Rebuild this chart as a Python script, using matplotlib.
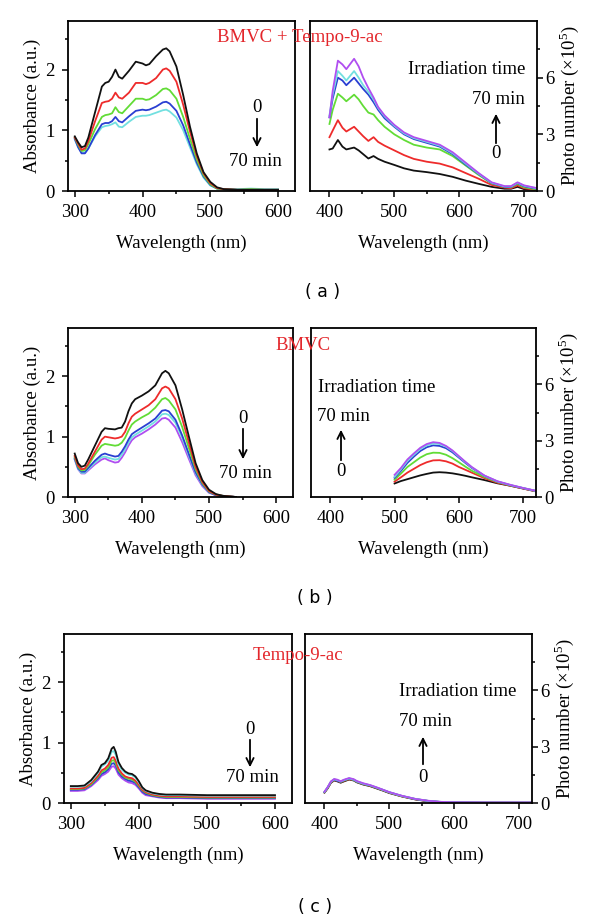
import matplotlib
matplotlib.use('Agg')
import matplotlib.pyplot as plt
from matplotlib.ticker import MultipleLocator, FixedLocator
from matplotlib.patches import FancyArrowPatch

plt.rcParams['font.family'] = ['Liberation Serif', 'DejaVu Serif']
plt.rcParams['mathtext.fontset'] = 'custom'
plt.rcParams['mathtext.rm'] = 'Liberation Serif'

# ---------------- data ----------------
# (a) BMVC + Tempo-9-ac, absorbance
wl_a_abs = [300, 305, 310, 315, 320, 330, 340, 345, 350, 355, 360, 365, 370, 380, 390, 400, 405, 410,
            420, 430, 435, 440, 450, 460, 470, 480, 490, 500, 510, 520, 540, 560, 580, 600]
a_abs_black = [0.90, 0.80, 0.72, 0.74, 0.88, 1.30, 1.72, 1.78, 1.80, 1.88, 2.00, 1.88, 1.85, 1.98, 2.13, 2.10, 2.07, 2.09,
               2.22, 2.33, 2.35, 2.30, 2.05, 1.58, 1.06, 0.62, 0.31, 0.15, 0.06, 0.03, 0.02, 0.02, 0.02, 0.02]
a_abs_red = [0.88, 0.78, 0.68, 0.70, 0.82, 1.15, 1.45, 1.47, 1.48, 1.52, 1.62, 1.54, 1.52, 1.62, 1.78, 1.78, 1.76, 1.78,
             1.86, 2.00, 2.02, 1.98, 1.80, 1.42, 0.98, 0.58, 0.29, 0.13, 0.05, 0.03, 0.02, 0.02, 0.02, 0.02]
a_abs_green = [0.88, 0.76, 0.66, 0.67, 0.77, 1.02, 1.22, 1.25, 1.26, 1.28, 1.38, 1.30, 1.28, 1.40, 1.52, 1.52, 1.50, 1.51,
               1.58, 1.68, 1.69, 1.66, 1.52, 1.22, 0.86, 0.52, 0.26, 0.11, 0.04, 0.03, 0.02, 0.03, 0.02, 0.02]
a_abs_blue = [0.86, 0.72, 0.62, 0.62, 0.70, 0.92, 1.10, 1.12, 1.12, 1.15, 1.22, 1.15, 1.13, 1.23, 1.32, 1.34, 1.33, 1.34,
              1.39, 1.46, 1.47, 1.44, 1.32, 1.08, 0.77, 0.47, 0.24, 0.10, 0.04, 0.03, 0.02, 0.02, 0.02, 0.02]
a_abs_cyan = [0.85, 0.72, 0.64, 0.63, 0.70, 0.90, 1.05, 1.07, 1.08, 1.10, 1.13, 1.06, 1.05, 1.14, 1.22, 1.24, 1.24, 1.25,
              1.29, 1.33, 1.34, 1.31, 1.21, 1.00, 0.72, 0.44, 0.22, 0.09, 0.04, 0.03, 0.03, 0.04, 0.03, 0.03]

# (a) emission
wl_a_em = [400, 405, 413, 420, 426, 438, 445, 452, 460, 468, 475, 485, 500, 515, 530, 550, 570,
           590, 610, 630, 650, 670, 680, 690, 700, 720]
a_em_black = [2.20, 2.25, 2.70, 2.35, 2.20, 2.30, 2.15, 1.95, 1.72, 1.85, 1.70, 1.55, 1.38, 1.20, 1.08, 1.00, 0.90,
              0.75, 0.55, 0.38, 0.22, 0.12, 0.12, 0.22, 0.10, 0.05]
a_em_red = [2.85, 3.20, 3.75, 3.35, 3.15, 3.40, 3.15, 2.90, 2.65, 2.85, 2.60, 2.40, 2.15, 1.90, 1.70, 1.55, 1.45,
            1.25, 0.95, 0.65, 0.32, 0.18, 0.15, 0.30, 0.15, 0.05]
a_em_green = [3.55, 4.30, 5.15, 4.95, 4.75, 5.10, 4.85, 4.50, 4.15, 4.05, 3.75, 3.40, 3.00, 2.70, 2.45, 2.30, 2.20,
              1.85, 1.35, 0.85, 0.40, 0.22, 0.20, 0.38, 0.20, 0.08]
a_em_blue = [3.90, 4.90, 6.00, 5.85, 5.60, 6.00, 5.70, 5.40, 5.10, 4.70, 4.30, 3.85, 3.40, 3.00, 2.75, 2.55, 2.35,
             1.95, 1.40, 0.90, 0.42, 0.22, 0.22, 0.42, 0.25, 0.12]
a_em_cyan = [4.00, 5.10, 6.35, 6.10, 5.85, 6.35, 6.00, 5.60, 5.25, 4.85, 4.40, 3.95, 3.45, 3.05, 2.80, 2.60, 2.40,
             2.00, 1.45, 0.92, 0.44, 0.24, 0.24, 0.44, 0.28, 0.14]
a_em_purple = [3.90, 5.30, 6.90, 6.70, 6.45, 7.00, 6.60, 6.00, 5.45, 4.95, 4.45, 4.00, 3.50, 3.10, 2.85, 2.65, 2.45,
               2.05, 1.50, 0.95, 0.46, 0.26, 0.26, 0.46, 0.30, 0.15]

# (b) BMVC, absorbance
wl_b_abs = [300, 305, 310, 315, 320, 330, 340, 345, 350, 360, 365, 370, 375, 380, 385, 390, 400, 410,
            420, 430, 435, 440, 450, 460, 470, 480, 490, 500, 510, 520, 530, 540]
b_abs_black = [0.72, 0.56, 0.50, 0.52, 0.62, 0.85, 1.08, 1.14, 1.13, 1.12, 1.14, 1.15, 1.25, 1.42, 1.55, 1.62, 1.68, 1.75,
               1.85, 2.05, 2.09, 2.05, 1.85, 1.45, 1.00, 0.56, 0.28, 0.12, 0.05, 0.02, 0.01, 0.00]
b_abs_red = [0.68, 0.52, 0.46, 0.47, 0.55, 0.75, 0.95, 1.00, 0.99, 0.97, 0.98, 1.00, 1.08, 1.22, 1.33, 1.38, 1.45, 1.52,
             1.62, 1.80, 1.83, 1.80, 1.62, 1.30, 0.90, 0.50, 0.25, 0.10, 0.04, 0.02, 0.01, 0.00]
b_abs_green = [0.66, 0.50, 0.44, 0.45, 0.52, 0.70, 0.85, 0.88, 0.87, 0.85, 0.86, 0.90, 0.98, 1.10, 1.20, 1.25, 1.32, 1.38,
               1.48, 1.62, 1.64, 1.60, 1.45, 1.16, 0.81, 0.46, 0.23, 0.09, 0.04, 0.02, 0.01, 0.00]
b_abs_blue = [0.64, 0.48, 0.42, 0.42, 0.48, 0.60, 0.70, 0.72, 0.70, 0.67, 0.68, 0.75, 0.84, 0.95, 1.04, 1.08, 1.15, 1.22,
              1.30, 1.43, 1.44, 1.42, 1.28, 1.02, 0.71, 0.41, 0.21, 0.08, 0.03, 0.02, 0.01, 0.00]
b_abs_cyan = [0.63, 0.47, 0.40, 0.40, 0.46, 0.57, 0.66, 0.67, 0.65, 0.62, 0.63, 0.70, 0.79, 0.90, 0.99, 1.03, 1.10, 1.17,
              1.25, 1.37, 1.38, 1.36, 1.23, 0.98, 0.68, 0.39, 0.20, 0.08, 0.03, 0.02, 0.01, 0.00]
b_abs_purple = [0.62, 0.46, 0.39, 0.39, 0.44, 0.54, 0.62, 0.64, 0.61, 0.57, 0.58, 0.65, 0.74, 0.85, 0.94, 0.99, 1.05, 1.12,
                1.20, 1.30, 1.31, 1.28, 1.15, 0.91, 0.63, 0.36, 0.18, 0.07, 0.03, 0.01, 0.01, 0.00]

# (b) emission
wl_b_em = [500, 510, 520, 530, 540, 550, 560, 570, 580, 590, 600, 610, 620, 640, 660, 680, 700, 720]
b_em_black = [0.72, 0.85, 0.95, 1.05, 1.15, 1.23, 1.30, 1.32, 1.30, 1.26, 1.20, 1.13, 1.05, 0.90, 0.73, 0.60, 0.45, 0.30]
b_em_red = [0.82, 1.05, 1.30, 1.50, 1.70, 1.85, 1.95, 1.96, 1.90, 1.78, 1.60, 1.45, 1.30, 1.00, 0.76, 0.60, 0.45, 0.30]
b_em_green = [0.92, 1.25, 1.60, 1.85, 2.10, 2.28, 2.36, 2.35, 2.25, 2.07, 1.85, 1.62, 1.40, 1.06, 0.80, 0.62, 0.47, 0.32]
b_em_blue = [1.02, 1.40, 1.82, 2.15, 2.45, 2.65, 2.75, 2.72, 2.60, 2.38, 2.10, 1.82, 1.55, 1.12, 0.82, 0.63, 0.47, 0.32]
b_em_cyan = [1.08, 1.48, 1.92, 2.25, 2.55, 2.75, 2.85, 2.82, 2.68, 2.45, 2.15, 1.86, 1.58, 1.13, 0.83, 0.64, 0.48, 0.32]
b_em_purple = [1.18, 1.55, 2.00, 2.32, 2.62, 2.82, 2.92, 2.88, 2.72, 2.48, 2.18, 1.88, 1.60, 1.14, 0.84, 0.65, 0.48, 0.33]

# (c) Tempo-9-ac, absorbance
wl_c_abs = [300, 310, 320, 330, 340, 345, 350, 355, 360, 363, 366, 370, 375, 380, 385, 390, 395, 400, 405,
            410, 420, 430, 440, 460, 500, 550, 600]
c_abs_black = [0.28, 0.28, 0.29, 0.38, 0.52, 0.63, 0.66, 0.74, 0.90, 0.93, 0.85, 0.68, 0.58, 0.52, 0.49, 0.48, 0.44, 0.36, 0.26,
               0.21, 0.17, 0.15, 0.14, 0.14, 0.13, 0.13, 0.13]
c_abs_cyan = [0.27, 0.27, 0.28, 0.36, 0.50, 0.60, 0.64, 0.70, 0.85, 0.86, 0.80, 0.64, 0.55, 0.50, 0.47, 0.46, 0.42, 0.34, 0.25,
              0.20, 0.16, 0.14, 0.13, 0.13, 0.12, 0.12, 0.12]
c_abs_red = [0.24, 0.24, 0.25, 0.33, 0.45, 0.54, 0.57, 0.63, 0.75, 0.76, 0.70, 0.57, 0.49, 0.44, 0.42, 0.41, 0.37, 0.30, 0.22,
             0.18, 0.14, 0.12, 0.11, 0.11, 0.10, 0.10, 0.10]
c_abs_green = [0.23, 0.23, 0.24, 0.31, 0.43, 0.51, 0.54, 0.59, 0.70, 0.71, 0.66, 0.54, 0.47, 0.42, 0.40, 0.39, 0.35, 0.28, 0.21,
               0.17, 0.13, 0.11, 0.10, 0.10, 0.09, 0.09, 0.09]
c_abs_blue = [0.22, 0.22, 0.23, 0.30, 0.41, 0.48, 0.51, 0.56, 0.65, 0.66, 0.62, 0.51, 0.44, 0.40, 0.37, 0.36, 0.33, 0.26, 0.19,
              0.15, 0.12, 0.10, 0.09, 0.09, 0.08, 0.08, 0.08]
c_abs_purple = [0.20, 0.20, 0.21, 0.28, 0.38, 0.45, 0.48, 0.52, 0.60, 0.61, 0.57, 0.47, 0.41, 0.37, 0.34, 0.33, 0.30, 0.24, 0.17,
                0.13, 0.11, 0.09, 0.08, 0.08, 0.07, 0.07, 0.07]

# (c) emission
wl_c_em = [400, 405, 410, 415, 420, 425, 430, 438, 445, 450, 460, 470, 480, 490, 500, 520, 540, 560, 580, 600, 650, 700, 720]
c_em_black = [0.55, 0.78, 1.08, 1.20, 1.15, 1.08, 1.15, 1.25, 1.20, 1.10, 0.98, 0.90, 0.78, 0.66, 0.53, 0.34, 0.19, 0.09, 0.04, 0.02, 0.01, 0.01, 0.01]
c_em_red = [0.56, 0.80, 1.10, 1.22, 1.18, 1.10, 1.18, 1.27, 1.22, 1.12, 1.00, 0.92, 0.80, 0.68, 0.55, 0.35, 0.20, 0.10, 0.05, 0.03, 0.02, 0.02, 0.02]
c_em_green = [0.57, 0.82, 1.12, 1.24, 1.20, 1.12, 1.20, 1.29, 1.23, 1.13, 1.01, 0.93, 0.81, 0.69, 0.56, 0.36, 0.21, 0.11, 0.05, 0.03, 0.02, 0.02, 0.02]
c_em_blue = [0.58, 0.83, 1.13, 1.25, 1.18, 1.13, 1.21, 1.30, 1.24, 1.14, 1.02, 0.94, 0.82, 0.70, 0.57, 0.37, 0.21, 0.11, 0.05, 0.03, 0.02, 0.02, 0.02]
c_em_cyan = [0.59, 0.84, 1.14, 1.26, 1.22, 1.15, 1.22, 1.31, 1.25, 1.15, 1.03, 0.95, 0.83, 0.70, 0.57, 0.37, 0.22, 0.11, 0.06, 0.03, 0.02, 0.02, 0.02]
c_em_purple = [0.60, 0.85, 1.15, 1.28, 1.24, 1.16, 1.24, 1.33, 1.27, 1.17, 1.05, 0.96, 0.84, 0.71, 0.58, 0.38, 0.22, 0.12, 0.06, 0.04, 0.03, 0.03, 0.03]

abs_ticks = [0, 1, 2]
abs_minor = [0.5, 1.5, 2.5]
em_ticks = [0, 3, 6]
em_minor = [1.5, 4.5, 7.5]

COL = {'black': '#111111', 'red': '#ee2b2b', 'green': '#62dc36', 'blue': '#2a3fd2',
       'cyan': '#72e0e0', 'purple': '#b04ef0'}
TITLE_RED = '#e3262b'

W, H = 600, 923
fig = plt.figure(figsize=(6, 9.23), dpi=100)


def box(l, t, r, b):
    return [l / W, 1 - b / H, (r - l) / W, (b - t) / H]


def ftext(x, y, s, **kw):
    kw.setdefault('ha', 'center')
    kw.setdefault('va', 'center')
    kw.setdefault('fontsize', 13.5)
    fig.text(x / W, 1 - y / H, s, **kw)


def farrow(x, y0, y1):
    arr = FancyArrowPatch((x / W, 1 - y0 / H), (x / W, 1 - y1 / H), transform=fig.transFigure,
                          arrowstyle='->', mutation_scale=13, lw=1.3, color='black')
    fig.add_artist(arr)


def setup(ax, xlim, ylim, ymaj, ymin, right=False):
    ax.set_xlim(xlim)
    ax.set_ylim(ylim)
    ax.xaxis.set_major_locator(MultipleLocator(100))
    ax.xaxis.set_minor_locator(MultipleLocator(50))
    ax.yaxis.set_major_locator(FixedLocator(ymaj))
    ax.yaxis.set_minor_locator(FixedLocator(ymin))
    ax.tick_params(which='both', direction='out', width=1.1, labelsize=13.5)
    ax.tick_params(which='major', length=4.5)
    ax.tick_params(which='minor', length=2.5)
    ax.tick_params(axis='x', pad=5)
    for s in ax.spines.values():
        s.set_linewidth(1.3)
    ax.set_xlabel('Wavelength (nm)', fontsize=13.5, labelpad=10)
    if right:
        ax.yaxis.tick_right()
        ax.yaxis.set_label_position('right')
        ax.tick_params(axis='y', pad=1.5)
        ax.set_ylabel('Photo number (×10$^{5}$)', fontsize=13.5, labelpad=2)
    else:
        ax.tick_params(axis='y', pad=5)
        ax.set_ylabel('Absorbance (a.u.)', fontsize=13.5, labelpad=3)


def draw(ax, x, series):
    for name, y in series:
        ax.plot(x, y, color=COL[name], lw=1.3)


# ---------------- panel (a) ----------------
ax = fig.add_axes(box(68, 21, 295, 191))
draw(ax, wl_a_abs, [('cyan', a_abs_cyan), ('blue', a_abs_blue), ('green', a_abs_green),
                    ('red', a_abs_red), ('black', a_abs_black)])
setup(ax, (290, 625), (0, 2.8), abs_ticks, abs_minor)

ax = fig.add_axes(box(310, 21, 537, 191))
draw(ax, wl_a_em, [('black', a_em_black), ('red', a_em_red), ('green', a_em_green),
                   ('blue', a_em_blue), ('cyan', a_em_cyan), ('purple', a_em_purple)])
setup(ax, (370, 720), (0, 9), em_ticks, em_minor, right=True)

ftext(300, 37, 'BMVC + Tempo-9-ac', color=TITLE_RED)
ftext(257, 108, '0')
farrow(257, 116, 150)
ftext(255, 162, '70 min')
ftext(467, 70, 'Irradiation time')
ftext(498, 100, '70 min')
farrow(496, 146, 111)
ftext(496, 154, '0')
ftext(323, 292, '( a )', family='DejaVu Sans', fontsize=12.5)

# ---------------- panel (b) ----------------
ax = fig.add_axes(box(68, 328, 293, 497))
draw(ax, wl_b_abs, [('purple', b_abs_purple), ('cyan', b_abs_cyan), ('blue', b_abs_blue),
                    ('green', b_abs_green), ('red', b_abs_red), ('black', b_abs_black)])
setup(ax, (290, 625), (0, 2.8), abs_ticks, abs_minor)

ax = fig.add_axes(box(311, 328, 536, 497))
draw(ax, wl_b_em, [('black', b_em_black), ('red', b_em_red), ('green', b_em_green),
                   ('blue', b_em_blue), ('cyan', b_em_cyan), ('purple', b_em_purple)])
setup(ax, (370, 720), (0, 9), em_ticks, em_minor, right=True)

ftext(303, 345, 'BMVC', color=TITLE_RED)
ftext(243, 418, '0')
farrow(243, 426, 462)
ftext(245, 473, '70 min')
ftext(377, 388, 'Irradiation time')
ftext(343, 417, '70 min')
farrow(341, 463, 427)
ftext(341, 472, '0')
ftext(315, 598, '( b )', family='DejaVu Sans', fontsize=12.5)

# ---------------- panel (c) ----------------
ax = fig.add_axes(box(64, 634, 292, 803))
draw(ax, wl_c_abs, [('purple', c_abs_purple), ('blue', c_abs_blue), ('green', c_abs_green),
                    ('red', c_abs_red), ('cyan', c_abs_cyan), ('black', c_abs_black)])
setup(ax, (290, 625), (0, 2.8), abs_ticks, abs_minor)

ax = fig.add_axes(box(305, 634, 532, 803))
draw(ax, wl_c_em, [('black', c_em_black), ('red', c_em_red), ('green', c_em_green),
                   ('blue', c_em_blue), ('cyan', c_em_cyan), ('purple', c_em_purple)])
setup(ax, (370, 720), (0, 9), em_ticks, em_minor, right=True)

ftext(298, 655, 'Tempo-9-ac', color=TITLE_RED)
ftext(250, 730, '0')
farrow(250, 737, 770)
ftext(252, 778, '70 min')
ftext(458, 692, 'Irradiation time')
ftext(425, 722, '70 min')
farrow(423, 767, 734)
ftext(423, 777, '0')
ftext(315, 907, '( c )', family='DejaVu Sans', fontsize=12.5)

fig.savefig('out.png', dpi=100)
